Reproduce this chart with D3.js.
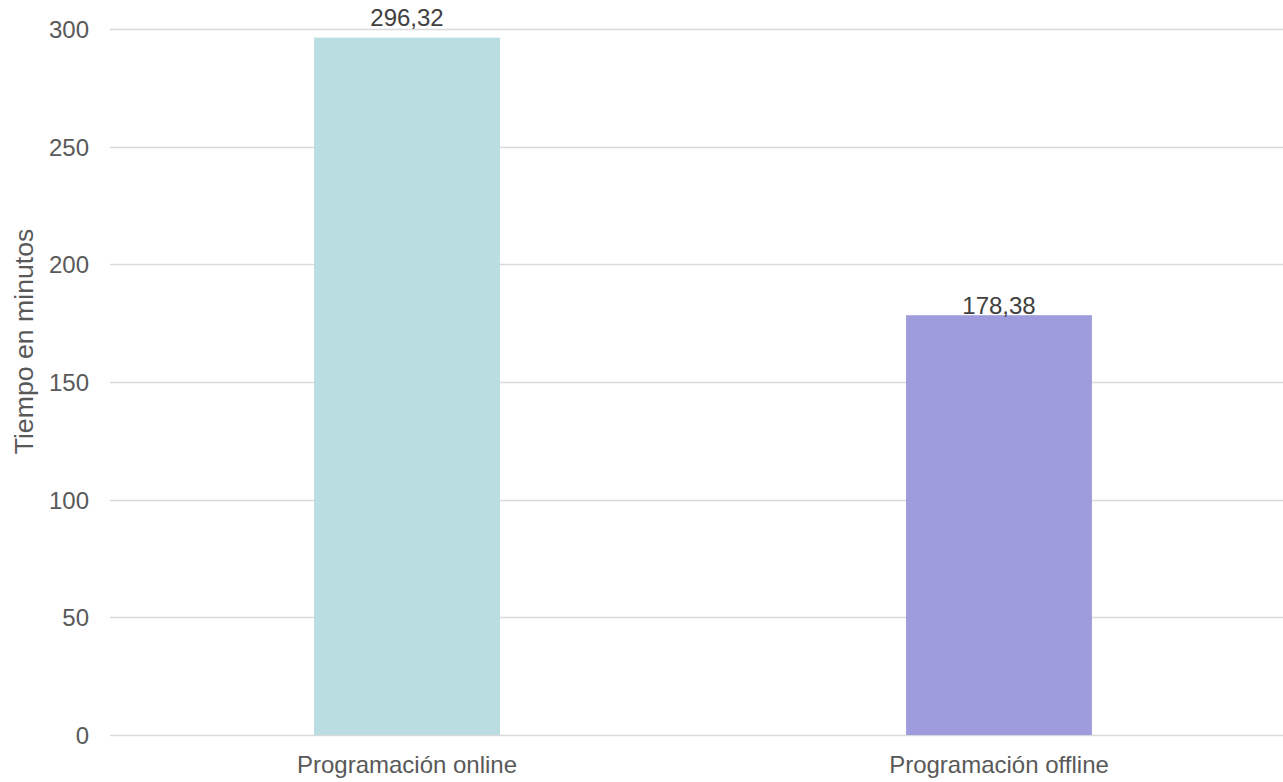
<!DOCTYPE html>
<html>
<head>
<meta charset="utf-8">
<script src="https://cdn.jsdelivr.net/npm/d3@7"></script>
<style>
  html, body { margin: 0; padding: 0; background: #fff; }
  svg { display: block; font-family: "Liberation Sans", Arial, sans-serif; }
</style>
</head>
<body>
<svg id="chart" width="1283" height="782"></svg>
<script>
// Average time per programming mode (minutes)
const categories = ["Programación online", "Programación offline"];
const values = [296.32, 178.38];
const barColors = ["#BADDE1", "#9F9CDD"];
const yTicks = [0, 50, 100, 150, 200, 250, 300];
const yTitle = "Tiempo en minutos";

const svg = d3.select("#chart");
const plotLeft = 110, plotRight = 1283;
const yTop = 29, yBottom = 735;
const fontFamily = "Liberation Sans, Arial, sans-serif";

const x = d3.scaleBand()
  .domain(categories)
  .range([111, 1295])
  .paddingInner(0.686)
  .paddingOuter(0.343);

const y = d3.scaleLinear().domain([0, 300]).range([yBottom, yTop]);

const fmt = v => v.toFixed(2).replace(".", ",");

// Horizontal gridlines
svg.append("g")
  .selectAll("line")
  .data(yTicks)
  .join("line")
  .attr("x1", plotLeft)
  .attr("x2", plotRight)
  .attr("y1", d => Math.round(y(d)) + 0.5)
  .attr("y2", d => Math.round(y(d)) + 0.5)
  .attr("stroke", "#D9D9D9")
  .attr("stroke-width", 1.3);

// Y axis tick labels
const yAxis = d3.axisLeft(y).tickValues(yTicks).tickSize(0).tickPadding(0);
svg.append("g")
  .attr("transform", "translate(89,0)")
  .call(yAxis)
  .call(g => g.select(".domain").remove())
  .call(g => g.selectAll("text")
    .attr("fill", "#595959")
    .attr("font-size", "24px")
    .attr("dy", "0.36em")
    .attr("font-family", fontFamily));

// Bars
svg.append("g")
  .selectAll("rect")
  .data(values)
  .join("rect")
  .attr("x", (d, i) => x(categories[i]))
  .attr("width", x.bandwidth())
  .attr("y", d => y(d))
  .attr("height", d => y(0) - y(d))
  .attr("fill", (d, i) => barColors[i]);

// Value labels (the shorter bar's label sits tight against its top)
const labelGap = [12, 1];
svg.append("g")
  .selectAll("text")
  .data(values)
  .join("text")
  .attr("x", (d, i) => x(categories[i]) + x.bandwidth() / 2)
  .attr("y", (d, i) => y(d) - labelGap[i])
  .attr("text-anchor", "middle")
  .attr("fill", "#404040")
  .attr("font-size", "24px")
  .text(d => fmt(d));

// Category labels
const xAxis = d3.axisBottom(x).tickSize(0).tickPadding(0);
svg.append("g")
  .attr("transform", "translate(0,773)")
  .call(xAxis)
  .call(g => g.select(".domain").remove())
  .call(g => g.selectAll("text")
    .attr("fill", "#595959")
    .attr("font-size", "24px")
    .attr("y", 0)
    .attr("dy", 0)
    .attr("font-family", fontFamily));

// Y axis title
svg.append("text")
  .attr("transform", "translate(33,341.5) rotate(-90)")
  .attr("text-anchor", "middle")
  .attr("fill", "#595959")
  .attr("font-size", "26.67px")
  .text(yTitle);
</script>
</body>
</html>
